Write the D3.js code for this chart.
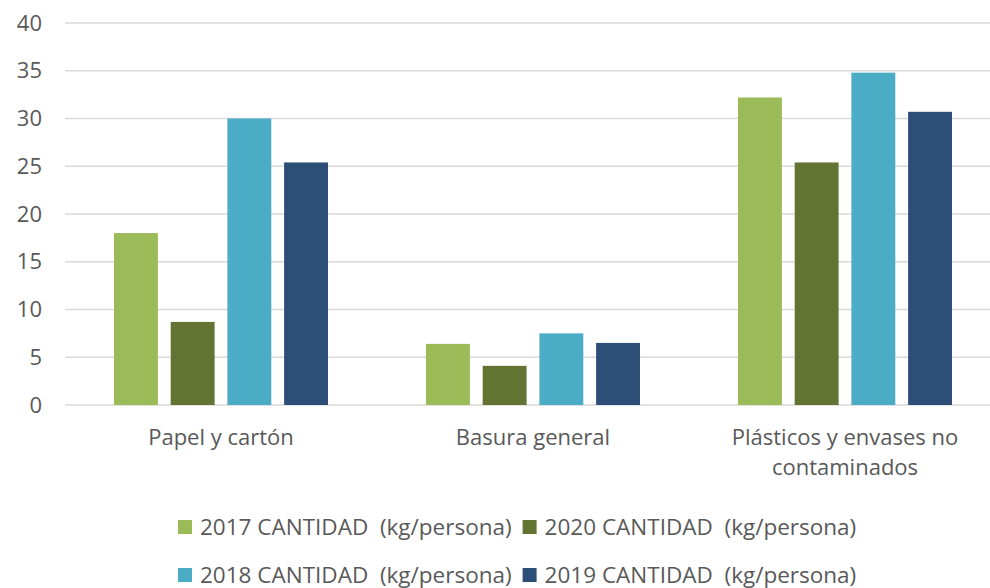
<!DOCTYPE html>
<html>
<head>
<meta charset="utf-8">
<script src="https://cdn.jsdelivr.net/npm/d3@7"></script>
<style>
  body { margin: 0; background: #fff; }
  svg text { font-family: "Open Sans", sans-serif; fill: #595959; white-space: pre; }
</style>
</head>
<body>
<div id="chart"></div>
<script>
var categories = ['Papel y cartón', 'Basura general', 'Plásticos y envases no contaminados'];
var series     = ['2017 CANTIDAD  (kg/persona)', '2020 CANTIDAD  (kg/persona)',
                  '2018 CANTIDAD  (kg/persona)', '2019 CANTIDAD  (kg/persona)'];
var values2017 = [18.0, 6.4, 32.2];
var values2020 = [8.7, 4.1, 25.4];
var values2018 = [30.0, 7.5, 34.8];
var values2019 = [25.4, 6.5, 30.7];
var yTicks     = [0, 5, 10, 15, 20, 25, 30, 35, 40];

var colors = ['#9bbb59', '#637432', '#4bacc6', '#2c4e77'];
var allValues = [values2017, values2020, values2018, values2019];

var width  = 990;
var height = 588;
var font_size = 22;
var legend_font_size = 22.5;

var svg = d3.select('#chart')
    .append('svg')
    .attr('width', width)
    .attr('height', height);

// scales
var y_scale = d3.scaleLinear()
    .domain([0, 40])
    .range([405, 23]);

var x0 = d3.scaleBand()
    .domain(categories)
    .range([65, 1001]);

var half = x0.bandwidth() / 2;
var x1 = d3.scaleBand()
    .domain(series)
    .range([half - 107, half + 107])
    .paddingInner(0.226);

// gridlines
svg.append('g')
    .selectAll('line')
    .data(yTicks)
    .enter()
    .append('line')
    .attr('x1', 65)
    .attr('x2', width)
    .attr('y1', function(d) { return y_scale(d); })
    .attr('y2', function(d) { return y_scale(d); })
    .attr('stroke', '#d9d9d9')
    .attr('stroke-width', 1.5);

// y axis labels
var y_axis = d3.axisLeft(y_scale).tickValues(yTicks).tickSize(0).tickPadding(0);
var yg = svg.append('g')
    .attr('transform', 'translate(42,0)')
    .call(y_axis);
yg.select('.domain').remove();
yg.selectAll('text')
    .attr('font-size', font_size + 'px')
    .attr('fill', '#595959')
    .style('font-family', '"Open Sans", sans-serif');

// bars
var groups = svg.selectAll('g.series')
    .data(series)
    .enter()
    .append('g')
    .attr('class', 'series')
    .style('fill', function(d, i) { return colors[i]; });

groups.selectAll('rect')
    .data(function(s, i) {
        return allValues[i].map(function(v, j) {
            return {series: s, category: categories[j], value: v};
        });
    })
    .enter()
    .append('rect')
    .attr('x', function(d) { return x0(d.category) + x1(d.series); })
    .attr('y', function(d) { return y_scale(d.value); })
    .attr('width', x1.bandwidth())
    .attr('height', function(d) { return y_scale(0) - y_scale(d.value); });

// category labels
var labels = svg.append('g')
    .selectAll('text')
    .data(categories)
    .enter()
    .append('text')
    .attr('x', function(d) { return x0(d) + half; })
    .attr('y', 445)
    .attr('text-anchor', 'middle')
    .attr('font-size', font_size + 'px')
    .text(function(d) { return d; });

labels.each(function(d) {
    var el = d3.select(this);
    if (this.getComputedTextLength() < 290) return;
    var words = d.split(' ');
    var line = [];
    var lines = [];
    el.text(null);
    var probe = el.append('tspan');
    words.forEach(function(w) {
        line.push(w);
        probe.text(line.join(' '));
        if (probe.node().getComputedTextLength() > 290 && line.length > 1) {
            line.pop();
            lines.push(line.join(' '));
            line = [w];
        }
    });
    lines.push(line.join(' '));
    probe.remove();
    lines.forEach(function(t, k) {
        el.append('tspan')
          .attr('x', el.attr('x'))
          .attr('dy', k == 0 ? 0 : 30)
          .text(t);
    });
});

// legend
var legend_rows = [[0, 1], [2, 3]];
var legend_y    = [527, 575];
legend_rows.forEach(function(row, r) {
    var x = 178;
    row.forEach(function(i) {
        svg.append('rect')
            .attr('x', x)
            .attr('y', legend_y[r] - 7)
            .attr('width', 14)
            .attr('height', 14)
            .attr('fill', colors[i]);
        var t = svg.append('text')
            .attr('x', x + 22)
            .attr('y', legend_y[r])
            .attr('dy', '0.35em')
            .attr('font-size', legend_font_size + 'px')
            .text(series[i]);
        x = x + 22 + t.node().getComputedTextLength() + 11;
    });
});
</script>
</body>
</html>
